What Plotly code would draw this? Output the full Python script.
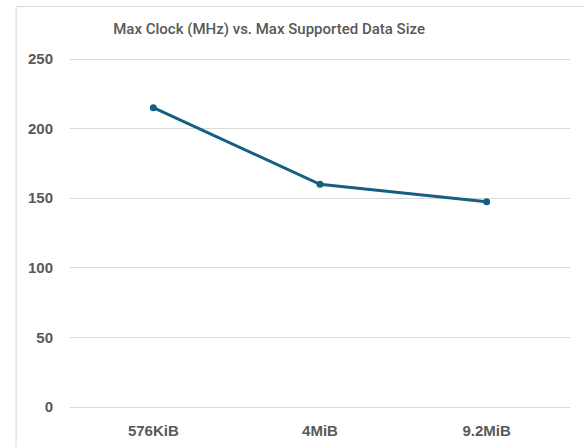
import plotly.graph_objects as go

categories = ["576KiB", "4MiB", "9.2MiB"]
max_clock = [215, 160, 147.5]
y_ticks = [0, 50, 100, 150, 200, 250]

W, H = 584, 447

# target pixel positions in the page
plot_left, plot_right = 69.5, 570.5
y250, y0 = 59, 407
pad = 4  # extra pixels so edge gridlines are not clipped
unit = (y0 - y250) / 250.0
plot_top, plot_bottom = y250 - pad, y0 + pad

L = plot_left
R = W - plot_right
T = plot_top
B = H - plot_bottom
pw = W - L - R
ph = H - T - B

def px_x(p):
    return (p - L) / pw

def px_y(p):
    return (H - B - p) / ph

fig = go.Figure()
fig.add_trace(go.Scatter(
    x=categories, y=max_clock, mode="lines+markers",
    line=dict(color="#156082", width=3),
    marker=dict(color="#156082", size=7),
    hoverinfo="x+y", showlegend=False,
))

tick_font = dict(family="Liberation Sans", size=15, color="#595959", weight="bold")

fig.update_layout(
    width=W, height=H,
    margin=dict(l=L, r=R, t=T, b=B, autoexpand=False),
    paper_bgcolor="white", plot_bgcolor="white",
    title=dict(text="Max Clock (MHz) vs. Max Supported Data Size",
               x=px_x(269), xref="paper", xanchor="center",
               y=1 - 29 / H, yref="container", yanchor="middle",
               font=dict(family="Roboto", size=15, color="#595959", weight=500)),
    xaxis=dict(type="category", range=[-0.5, 2.5], showgrid=False,
               showline=False, zeroline=False, ticks="",
               tickfont=tick_font, ticklabelstandoff=13 - pad, fixedrange=True),
    yaxis=dict(range=[-pad / unit, 250 + pad / unit], tickvals=y_ticks, showgrid=True,
               gridcolor="#D9D9D9", gridwidth=1, zeroline=False, showline=False,
               ticks="", tickfont=tick_font, ticklabelstandoff=16, fixedrange=True),
    shapes=[
        dict(type="line", xref="paper", yref="paper",
             x0=px_x(15.5), x1=px_x(15.5), y0=px_y(6.5), y1=px_y(447),
             line=dict(color="#D9D9D9", width=1)),
        dict(type="line", xref="paper", yref="paper",
             x0=px_x(15.5), x1=px_x(584), y0=px_y(6.5), y1=px_y(6.5),
             line=dict(color="#D9D9D9", width=1)),
    ],
)

fig.write_html("out.html",
               config={"displayModeBar": False},
               post_script="document.body.style.margin='0';document.body.style.overflow='hidden';")
